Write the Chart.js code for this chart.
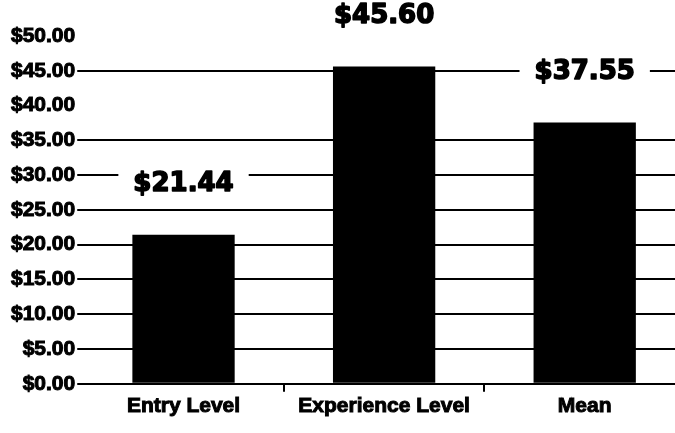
<!DOCTYPE html>
<html>
<head>
<meta charset="utf-8">
<script src="https://cdn.jsdelivr.net/npm/chart.js@4.4.1/dist/chart.umd.min.js"></script>
<style>
  html, body { margin: 0; padding: 0; background: #fff; overflow: hidden; }
  #wrap { width: 690px; height: 433px; position: relative; }
</style>
</head>
<body>
<div id="wrap"><canvas id="payChart"></canvas></div>
<script>
const categories = ['Entry Level', 'Experience Level', 'Mean']
const hourlyPay = [21.44, 45.60, 37.55]
const valueLabels = ['$21.44', '$45.60', '$37.55']
const yTicks = [0, 5, 10, 15, 20, 25, 30, 35, 40, 45, 50]

// labels above the bars, on a white box that cuts the grid lines
const valueLabelPlugin = {
  id: 'valueLabels',
  afterDatasetsDraw(chart) {
    const ctx = chart.ctx
    const meta = chart.getDatasetMeta(0)
    ctx.save()
    ctx.font = 'bold 26px "DejaVu Sans"'
    ctx.textAlign = 'center'
    ctx.textBaseline = 'middle'
    ctx.lineWidth = 1.6
    ctx.lineJoin = 'round'
    meta.data.forEach(function (bar, i) {
      const text = valueLabels[i]
      const w = ctx.measureText(text).width
      const y = bar.y - 50
      ctx.fillStyle = '#fff'
      ctx.fillRect(bar.x - w / 2 - 15, y - 14, w + 30, 28)
      ctx.fillStyle = '#000'
      ctx.strokeStyle = '#000'
      ctx.fillText(text, bar.x, y)
      ctx.strokeText(text, bar.x, y)
    })
    ctx.restore()
  }
}

new Chart(document.getElementById('payChart'), {
  type: 'bar',
  data: {
    labels: categories,
    datasets: [{
      data: hourlyPay,
      backgroundColor: '#000',
      borderWidth: 0,
      categoryPercentage: 1,
      barPercentage: 0.51
    }]
  },
  options: {
    responsive: true,
    maintainAspectRatio: false,
    animation: false,
    layout: { padding: { top: 36, right: 5, bottom: 12, left: 9 } },
    plugins: {
      legend: { display: false },
      tooltip: { enabled: false }
    },
    scales: {
      x: {
        grid: {
          drawOnChartArea: false,
          tickLength: 8,
          lineWidth: 2,
          color: c => (c.index === 1 || c.index === 2) ? '#000' : 'transparent'
        },
        border: { display: true, color: '#000', width: 2 },
        ticks: {
          color: '#000',
          padding: 2,
          textStrokeColor: '#000',
          textStrokeWidth: 1,
          font: { family: '"Liberation Sans", Arial, sans-serif', weight: 'bold', size: 21 }
        }
      },
      y: {
        min: 0,
        max: 50,
        afterBuildTicks: axis => { axis.ticks = yTicks.map(v => ({ value: v })) },
        grid: {
          tickLength: 6,
          lineWidth: 2,
          color: c => (c.tick && (c.tick.value === 40 || c.tick.value === 50)) ? 'transparent' : '#000'
        },
        border: { display: false },
        ticks: {
          color: '#000',
          padding: 2,
          textStrokeColor: '#000',
          textStrokeWidth: 1,
          font: { family: '"Liberation Sans", Arial, sans-serif', weight: 'bold', size: 21 },
          callback: v => '$' + Number(v).toFixed(2)
        }
      }
    }
  },
  plugins: [valueLabelPlugin]
})
</script>
</body>
</html>
